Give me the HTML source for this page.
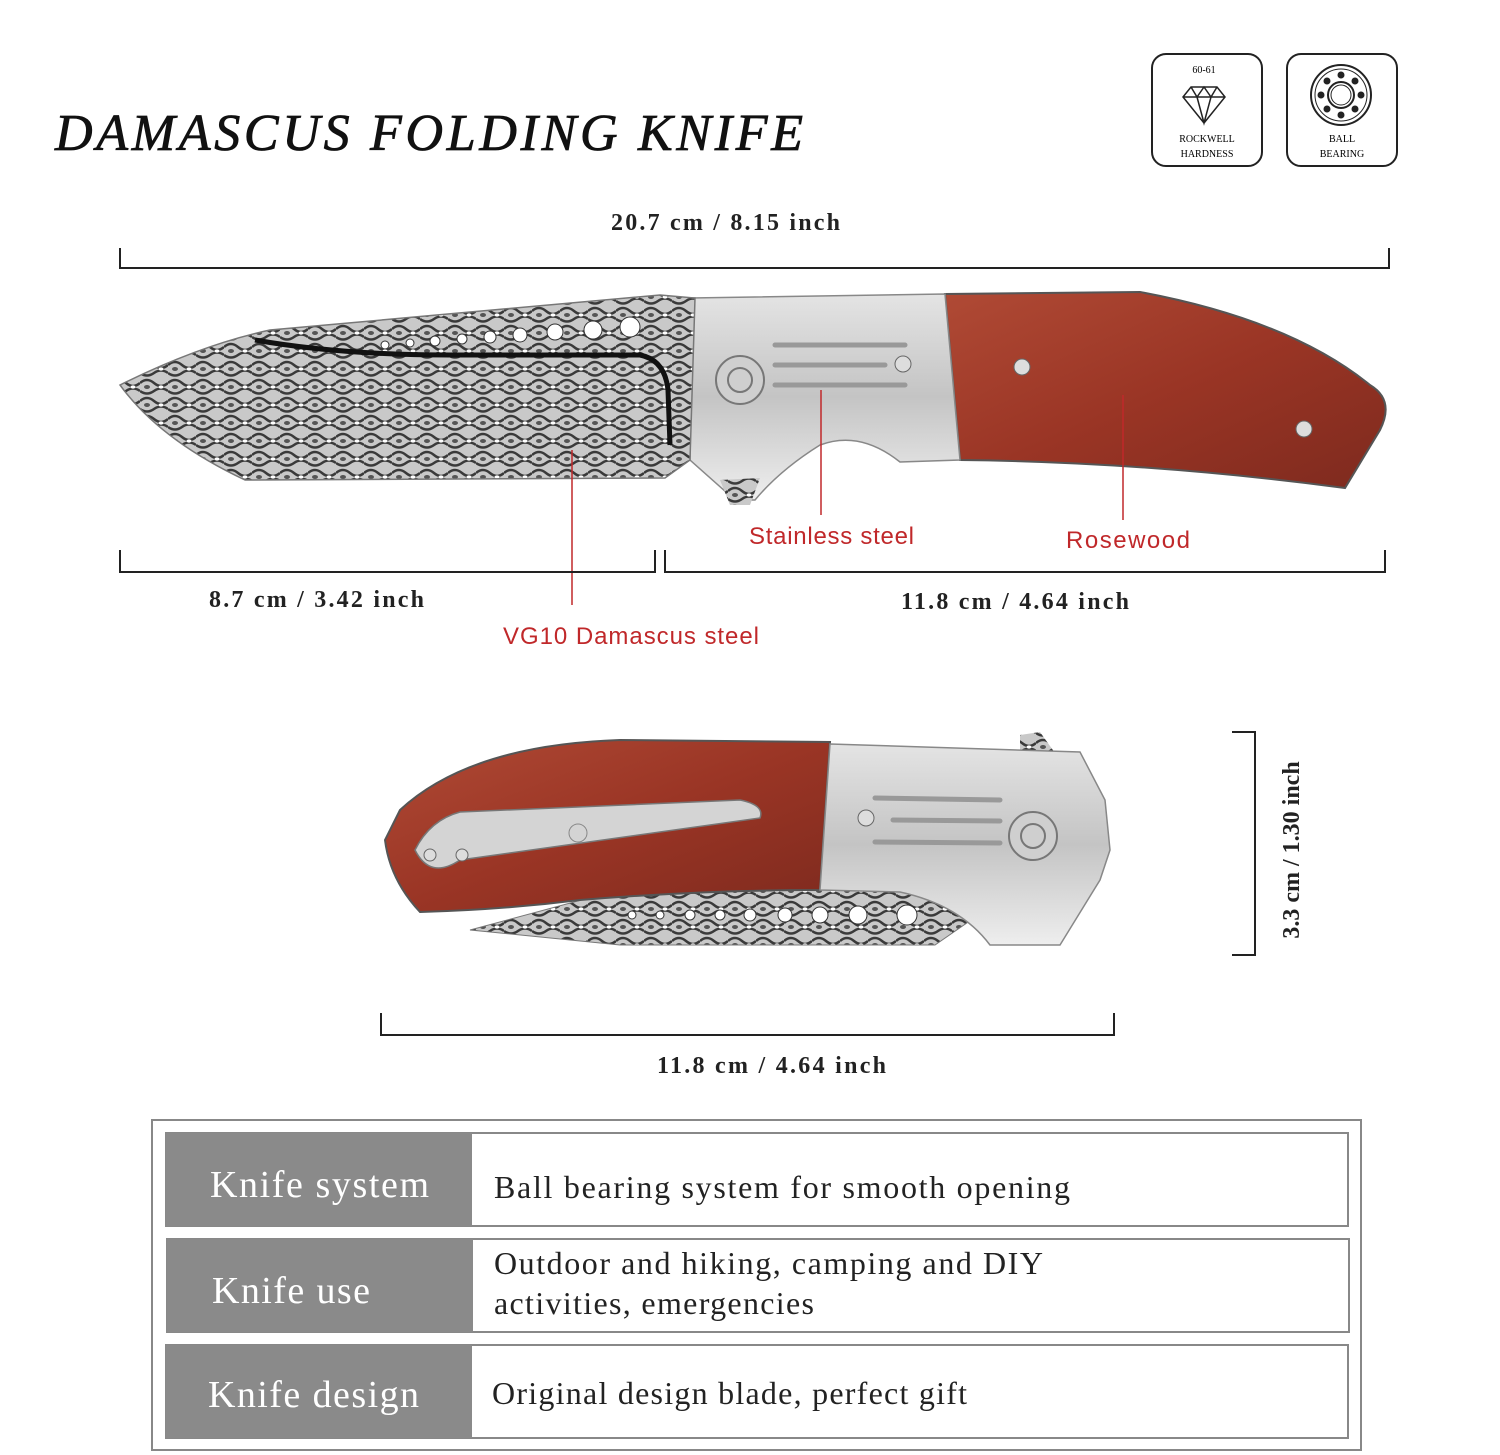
<!DOCTYPE html>
<html><head><meta charset="utf-8">
<style>
html,body{margin:0;padding:0;background:#fff;}
body{width:1500px;height:1455px;position:relative;overflow:hidden;font-family:"Liberation Serif",serif;}
svg{position:absolute;left:0;top:0;}
</style></head><body>
<svg width="1500" height="1455" viewBox="0 0 1500 1455" xmlns="http://www.w3.org/2000/svg">
<defs>
<pattern id="dam" width="28" height="18" patternUnits="userSpaceOnUse">
<rect width="28" height="18" fill="#c9c9c9"/>
<path d="M0 5 q7 -6 14 0 t14 0 M0 13 q7 5 14 0 t14 0" stroke="#3a3a3a" stroke-width="2.5" fill="none"/>
<ellipse cx="7" cy="9" rx="3" ry="2" fill="#555"/>
<ellipse cx="21" cy="9" rx="2.5" ry="1.6" fill="#fff"/>
</pattern>
<linearGradient id="wood" x1="0" y1="0" x2="1" y2="1">
<stop offset="0" stop-color="#b04a35"/><stop offset="0.5" stop-color="#9a3525"/><stop offset="1" stop-color="#7e2a1e"/>
</linearGradient>
<linearGradient id="steel" x1="0" y1="0" x2="0" y2="1">
<stop offset="0" stop-color="#e4e4e4"/><stop offset="0.5" stop-color="#c4c4c4"/><stop offset="1" stop-color="#eeeeee"/>
</linearGradient>
</defs>

<text x="55" y="150" font-size="52" font-style="italic" fill="#111" textLength="748" stroke="#111" stroke-width="0.8">DAMASCUS FOLDING KNIFE</text>

<!-- icons -->
<rect x="1152" y="54" width="110" height="112" rx="14" fill="none" stroke="#222" stroke-width="2"/>
<text x="1204" y="73" font-size="10" text-anchor="middle">60-61</text>
<path d="M1183 97 l8 -10 h26 l8 10 l-21 26 z M1183 97 h42 M1191 87 l6 10 l7 -10 l7 10 l6 -10 M1197 97 l7 26 l7 -26" fill="none" stroke="#222" stroke-width="1.5"/>
<text x="1207" y="142" font-size="10" text-anchor="middle">ROCKWELL</text>
<text x="1207" y="157" font-size="10" text-anchor="middle">HARDNESS</text>
<rect x="1287" y="54" width="110" height="112" rx="14" fill="none" stroke="#222" stroke-width="2"/>
<circle cx="1341" cy="95" r="30" fill="none" stroke="#222" stroke-width="2"/>
<circle cx="1341" cy="95" r="26" fill="none" stroke="#222" stroke-width="1"/>
<circle cx="1341" cy="95" r="13" fill="none" stroke="#222" stroke-width="2"/>
<circle cx="1341" cy="95" r="10" fill="none" stroke="#222" stroke-width="1"/>
<g fill="#222"><circle cx="1341" cy="75" r="3.5"/><circle cx="1341" cy="115" r="3.5"/><circle cx="1321" cy="95" r="3.5"/><circle cx="1361" cy="95" r="3.5"/><circle cx="1355" cy="81" r="3.5"/><circle cx="1327" cy="81" r="3.5"/><circle cx="1355" cy="109" r="3.5"/><circle cx="1327" cy="109" r="3.5"/></g>
<text x="1342" y="142" font-size="10" text-anchor="middle">BALL</text>
<text x="1342" y="157" font-size="10" text-anchor="middle">BEARING</text>

<!-- top dimension -->
<text x="611" y="230" font-size="24" font-weight="bold" fill="#222" textLength="229">20.7 cm / 8.15 inch</text>
<path d="M120 248 V268 H1389 V248" fill="none" stroke="#222" stroke-width="2"/>

<!-- knife 1 -->
<path d="M945 294 L1140 292 Q1290 320 1370 385 Q1395 400 1380 430 L1345 488 Q1150 462 960 460 Z" fill="url(#wood)" stroke="#555" stroke-width="2"/>
<circle cx="1022" cy="367" r="8" fill="#ddd" stroke="#666"/>
<circle cx="1304" cy="429" r="8" fill="#ddd" stroke="#666"/>
<path d="M690 298 L945 294 L960 460 L900 462 Q860 430 820 445 Q780 470 755 500 L735 500 L690 460 Z" fill="url(#steel)" stroke="#888" stroke-width="1.5"/>
<circle cx="740" cy="380" r="24" fill="#cfcfcf" stroke="#777" stroke-width="2"/>
<circle cx="740" cy="380" r="12" fill="none" stroke="#777" stroke-width="2"/>
<circle cx="903" cy="364" r="8" fill="#ddd" stroke="#666"/>
<g stroke="#999" stroke-width="5" stroke-linecap="round"><line x1="775" y1="345" x2="905" y2="345"/><line x1="775" y1="365" x2="885" y2="365"/><line x1="775" y1="385" x2="905" y2="385"/></g>
<path d="M120 385 Q200 345 270 330 L660 295 L695 298 L690 460 L665 478 L245 480 Q160 440 120 385 Z" fill="url(#dam)" stroke="#777" stroke-width="1.5"/>
<path d="M720 480 L760 478 L750 505 L730 505 Z" fill="url(#dam)"/>
<path d="M255 340 Q340 355 450 355 L640 355 Q665 360 668 390 L670 445" fill="none" stroke="#111" stroke-width="5"/>
<g fill="#fff" stroke="#333"><circle cx="630" cy="327" r="10"/><circle cx="593" cy="330" r="9"/><circle cx="555" cy="332" r="8"/><circle cx="520" cy="335" r="7"/><circle cx="490" cy="337" r="6"/><circle cx="462" cy="339" r="5"/><circle cx="435" cy="341" r="5"/><circle cx="410" cy="343" r="4"/><circle cx="385" cy="345" r="4"/></g>

<!-- red leaders -->
<g stroke="#c0282a" stroke-width="1.5"><line x1="821" y1="390" x2="821" y2="515"/><line x1="1123" y1="395" x2="1123" y2="520"/><line x1="572" y1="450" x2="572" y2="605"/></g>
<g font-family="Liberation Sans, sans-serif" font-size="24" fill="#c0282a">
<text x="749" y="544" textLength="165">Stainless steel</text><text x="1066" y="548" textLength="124">Rosewood</text><text x="503" y="644" textLength="256">VG10 Damascus steel</text></g>

<path d="M120 550 V572 H655 V550 M665 550 V572 H1385 V550" fill="none" stroke="#222" stroke-width="2"/>
<text x="209" y="607" font-size="24" font-weight="bold" fill="#222" textLength="215">8.7 cm / 3.42 inch</text>
<text x="901" y="609" font-size="24" font-weight="bold" fill="#222" textLength="228">11.8 cm / 4.64 inch</text>

<!-- knife 2 -->
<path d="M1020 735 L1040 732 L1060 760 L1020 765 Z" fill="url(#dam)"/>
<path d="M600 895 L880 880 L1000 900 L935 945 L620 945 L470 930 Z" fill="url(#dam)" stroke="#777"/>
<g fill="#fff" stroke="#333"><circle cx="907" cy="915" r="10"/><circle cx="858" cy="915" r="9"/><circle cx="820" cy="915" r="8"/><circle cx="785" cy="915" r="7"/><circle cx="750" cy="915" r="6"/><circle cx="720" cy="915" r="5"/><circle cx="690" cy="915" r="5"/><circle cx="660" cy="915" r="4"/><circle cx="632" cy="915" r="4"/></g>
<path d="M400 810 Q470 745 620 740 L830 742 L820 890 Q700 890 580 900 Q500 910 420 912 Q390 880 385 840 Z" fill="url(#wood)" stroke="#555" stroke-width="2"/>
<path d="M415 850 Q430 820 460 812 L740 800 Q765 805 760 818 L460 860 Q430 880 415 850 Z" fill="#d4d4d4" stroke="#777" stroke-width="1.5"/>
<circle cx="430" cy="855" r="6" fill="#ddd" stroke="#666"/><circle cx="462" cy="855" r="6" fill="#ddd" stroke="#666"/>
<circle cx="578" cy="833" r="9" fill="none" stroke="#888"/>
<path d="M830 744 L1080 752 L1105 800 L1110 850 L1100 880 L1060 945 L990 945 Q960 905 900 892 L820 890 Z" fill="url(#steel)" stroke="#888" stroke-width="1.5"/>
<circle cx="1033" cy="836" r="24" fill="#cfcfcf" stroke="#777" stroke-width="2"/>
<circle cx="1033" cy="836" r="12" fill="none" stroke="#777" stroke-width="2"/>
<circle cx="866" cy="818" r="8" fill="#ddd" stroke="#666"/>
<g stroke="#999" stroke-width="5" stroke-linecap="round"><line x1="875" y1="798" x2="1000" y2="800"/><line x1="893" y1="820" x2="1000" y2="821"/><line x1="875" y1="842" x2="1000" y2="843"/></g>

<path d="M1232 732 H1255 V955 H1232" fill="none" stroke="#222" stroke-width="2"/>
<text x="0" y="0" font-size="24" font-weight="bold" text-anchor="middle" fill="#222" transform="translate(1299 850) rotate(-90)">3.3 cm / 1.30 inch</text>
<path d="M381 1013 V1035 H1114 V1013" fill="none" stroke="#222" stroke-width="2"/>
<text x="657" y="1073" font-size="24" font-weight="bold" fill="#222" textLength="229">11.8 cm / 4.64 inch</text>

<!-- table -->
<rect x="152" y="1120" width="1209" height="330" fill="none" stroke="#888" stroke-width="2"/>
<g stroke="#888" stroke-width="2" fill="#fff">
<rect x="166" y="1133" width="1182" height="93"/><rect x="167" y="1239" width="1182" height="93"/><rect x="166" y="1345" width="1182" height="93"/></g>
<g fill="#8a8a8a"><rect x="166" y="1133" width="306" height="93"/><rect x="167" y="1239" width="306" height="93"/><rect x="166" y="1345" width="306" height="93"/></g>
<g font-size="38" fill="#fff"><text x="210" y="1197" textLength="219">Knife system</text><text x="212" y="1303" textLength="158">Knife use</text><text x="208" y="1407" textLength="211">Knife design</text></g>
<g font-size="32" fill="#222"><text x="494" y="1198" textLength="576">Ball bearing system for smooth opening</text>
<text x="494" y="1274" textLength="549">Outdoor and hiking, camping and DIY</text><text x="494" y="1314" textLength="320">activities, emergencies</text>
<text x="492" y="1404" textLength="475">Original design blade, perfect gift</text></g>
</svg>
</body></html>
